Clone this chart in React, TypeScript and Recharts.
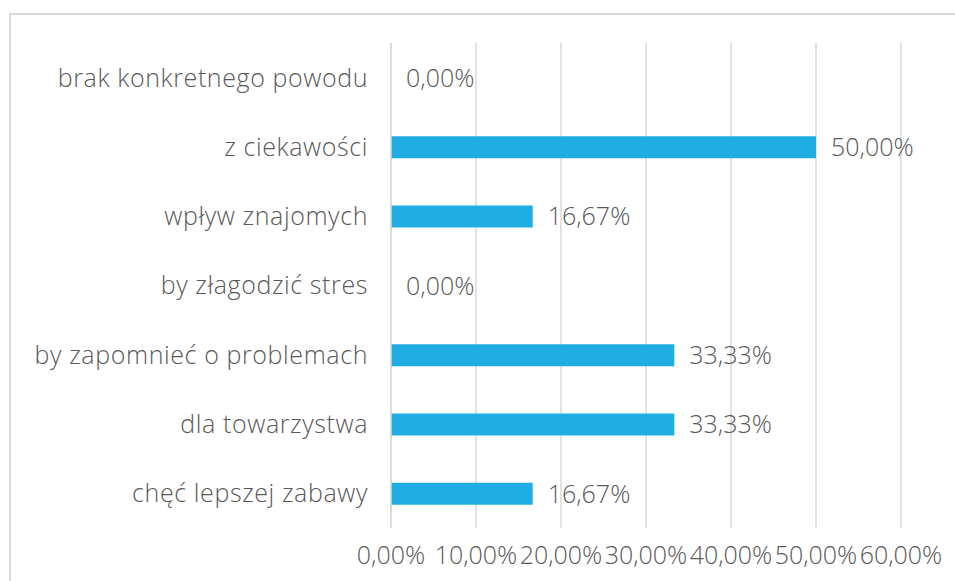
import { BarChart, Bar, XAxis, YAxis, CartesianGrid, LabelList } from "recharts";

const reasons = [
  "brak konkretnego powodu",
  "z ciekawości",
  "wpływ znajomych",
  "by złagodzić stres",
  "by zapomnieć o problemach",
  "dla towarzystwa",
  "chęć lepszej zabawy",
];
const shares = [0, 50, 16.67, 0, 33.33, 33.33, 16.67];
const xTicks = [0, 10, 20, 30, 40, 50, 60];

const data = reasons.map((name, i) => ({ name, value: shares[i] }));

const pct = (v: number) => v.toFixed(2).replace(".", ",") + "%";

const FONT = "'Open Sans', sans-serif";
const TEXT = "#595959";

export default function App() {
  return (
    <div style={{ position: "absolute", left: 0, top: 0, width: 955, height: 581, background: "#fff" }}>
      <div
        style={{
          position: "absolute",
          left: 9,
          top: 13,
          width: 946,
          height: 568,
          borderTop: "2px solid #D9D9D9",
          borderLeft: "2px solid #D9D9D9",
          boxSizing: "border-box",
        }}
      />
      <div style={{ position: "absolute", left: 0, top: 0 }}>
        <BarChart
          width={955}
          height={581}
          data={data}
          layout="vertical"
          margin={{ top: 43, right: 54, bottom: 0, left: 0 }}
          barSize={22}
        >
          <CartesianGrid horizontal={false} stroke="#D9D9D9" strokeWidth={1.5} />
          <XAxis
            type="number"
            domain={[0, 60]}
            ticks={xTicks}
            tickFormatter={pct}
            axisLine={false}
            tickLine={false}
            tickSize={0}
            tickMargin={18}
            height={53}
            interval={0}
            tick={{ fill: TEXT, fontSize: 25, fontFamily: FONT, fontWeight: 300 }}
          />
          <YAxis
            type="category"
            dataKey="name"
            width={391}
            axisLine={{ stroke: "#D9D9D9", strokeWidth: 1.5 }}
            tickLine={false}
            tickSize={0}
            tickMargin={23}
            interval={0}
            tick={{ fill: TEXT, fontSize: 25, fontFamily: FONT, fontWeight: 300, letterSpacing: 0.6 }}
          />
          <Bar dataKey="value" fill="#1FADE4" minPointSize={0.01} isAnimationActive={false}>
            <LabelList
              dataKey="value"
              position="right"
              offset={15}
              formatter={(v: any) => pct(Number(v))}
              style={{ fill: TEXT, fontSize: 25, fontFamily: FONT, fontWeight: 300 }}
            />
          </Bar>
        </BarChart>
      </div>
    </div>
  );
}
